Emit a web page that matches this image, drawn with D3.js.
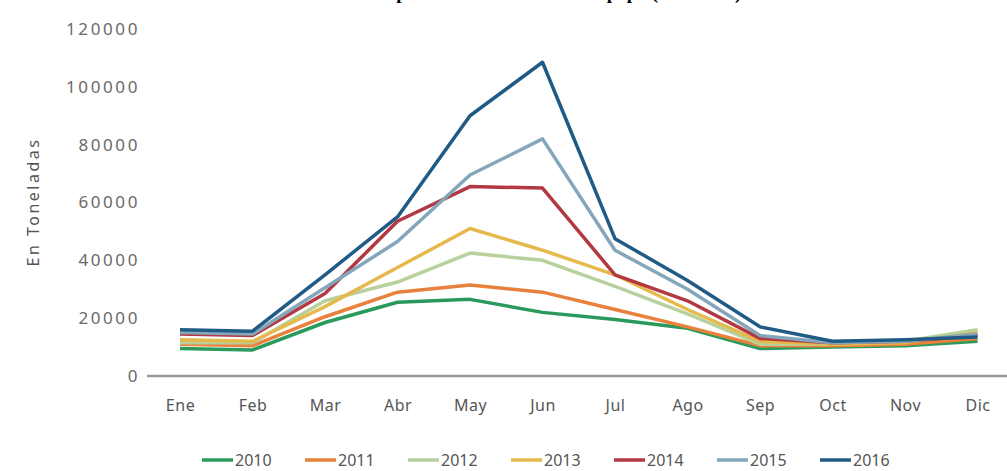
<!DOCTYPE html>
<html>
<head>
<meta charset="utf-8">
<script src="https://cdn.jsdelivr.net/npm/d3@7"></script>
<style>
  body { margin: 0; background: #fff; }
  svg { display: block; }
  .tick text { font-family: "Noto Sans", sans-serif; }
</style>
</head>
<body>
<svg id="chart" width="1007" height="471"></svg>
<script>
// months on the x axis
const months = ["Ene", "Feb", "Mar", "Abr", "May", "Jun", "Jul", "Ago", "Sep", "Oct", "Nov", "Dic"];
const yTicks = [0, 20000, 40000, 60000, 80000, 100000, 120000];

// tonnes per month
const y2010 = [9500, 9000, 18500, 25500, 26500, 22000, 19500, 16500, 9500, 10000, 10500, 12000];
const y2011 = [11000, 10500, 20500, 29000, 31500, 29000, 23000, 17000, 10500, 10500, 11000, 13000];
const y2012 = [11500, 11500, 26000, 32500, 42500, 40000, 31000, 21500, 11000, 11000, 12000, 16000];
const y2013 = [12500, 12000, 24000, 37500, 51000, 43500, 35000, 23000, 12000, 11000, 11500, 15000];
const y2014 = [14500, 14000, 28500, 53500, 65500, 65000, 35000, 26000, 13000, 11500, 12000, 14000];
const y2015 = [15000, 14500, 30500, 46500, 69500, 82000, 43500, 30000, 14000, 11500, 12000, 14500];
const y2016 = [16000, 15500, 35000, 55000, 90000, 108500, 47500, 33000, 17000, 12000, 12500, 13500];

const years = ["2010", "2011", "2012", "2013", "2014", "2015", "2016"];
const colors = ["#2a9a5c", "#e8813c", "#b8d19c", "#e6b94c", "#b23842", "#84a6ba", "#205b86"];
const series = [y2010, y2011, y2012, y2013, y2014, y2015, y2016];

const svg = d3.select("#chart");

// title (cut off at the top in the original)
svg.append("text")
  .attr("x", 373).attr("y", -1)
  .style("font-family", "Liberation Serif, serif")
  .style("font-weight", "bold")
  .style("font-size", "19px")
  .text("Importaciones mensuales de papa (toneladas)");

const x = d3.scalePoint().domain(months).range([180, 977.5]);
const y = d3.scaleLinear().domain([0, 120000]).range([376, 29]);

// y axis labels, no line
const yAxis = svg.append("g").attr("transform", "translate(140,0)")
  .call(d3.axisLeft(y).tickValues(yTicks).tickSize(0).tickPadding(0).tickFormat(d3.format("d")));
yAxis.select(".domain").remove();
yAxis.selectAll("text")
  .style("font-size", "17px")
  .style("letter-spacing", "2.6px")
  .attr("fill", "#6a6a6a");

// x axis
const xAxis = svg.append("g").attr("transform", "translate(0,376)")
  .call(d3.axisBottom(x).tickSize(0).tickPadding(24));
xAxis.select(".domain").remove();
xAxis.selectAll("text")
  .style("font-size", "16px")
  .style("letter-spacing", "0.5px")
  .attr("fill", "#555");

svg.append("line")
  .attr("x1", 147).attr("x2", 1007)
  .attr("y1", y(0)).attr("y2", y(0))
  .attr("stroke", "#999").attr("stroke-width", 2.5);

svg.append("text")
  .attr("transform", "translate(39,202) rotate(-90)")
  .attr("text-anchor", "middle")
  .style("font-family", "Noto Sans, sans-serif")
  .style("font-size", "16px")
  .style("letter-spacing", "2.5px")
  .attr("fill", "#555")
  .text("En Toneladas");

const line = d3.line()
  .x((d, i) => x(months[i]))
  .y(d => y(d));

series.forEach((s, k) => {
  svg.append("path")
    .datum(s)
    .attr("fill", "none")
    .attr("stroke", colors[k])
    .attr("stroke-width", 3.5)
    .attr("stroke-linejoin", "round")
    .attr("d", line);
});

// legend
const leg = svg.append("g").attr("transform", "translate(202,460)");
years.forEach((yr, k) => {
  const g = leg.append("g").attr("transform", `translate(${k * 103},0)`);
  g.append("line").attr("x1", 0).attr("x2", 31).attr("y1", 0).attr("y2", 0)
    .attr("stroke", colors[k]).attr("stroke-width", 3.5);
  g.append("text").attr("x", 33).attr("y", 0)
    .attr("dy", "0.35em")
    .style("font-family", "Noto Sans, sans-serif")
    .style("font-size", "16px")
    .attr("fill", "#555")
    .text(yr);
});
</script>
</body>
</html>
